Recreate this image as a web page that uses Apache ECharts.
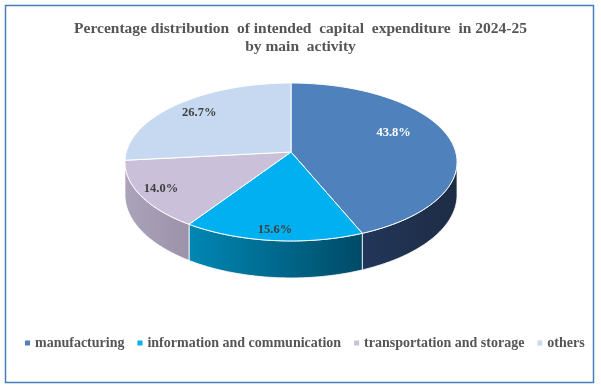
<!DOCTYPE html>
<html>
<head>
<meta charset="utf-8">
<script src="https://cdn.jsdelivr.net/npm/echarts@6/dist/echarts.min.js"></script>
<style>
html,body{margin:0;padding:0;background:#fff;}
#chart{width:601px;height:388px;}
</style>
</head>
<body>
<div id="chart"></div>
<script>
// ---- data ----
const categories = ['manufacturing', 'information and communication', 'transportation and storage', 'others'];
const values = [43.8, 15.6, 14.0, 26.7];
const labels = ['43.8%', '15.6%', '14.0%', '26.7%'];

// ---- styles / layout ----
const topColors = ['#4F81BD', '#00B0F0', '#CBC0DA', '#C6D9F1'];
const sideColors = [['#22365A', '#1E2C44'], ['#0087B4', '#004B66'], ['#ABA3BA', '#9C93AB'], ['#A4B5CC', '#93A3B9']];
const labelColors = ['#FFFFFF', '#404040', '#404040', '#404040'];
const labelRadius = [0.69, 0.89, 0.87, 0.8];
const labelAngleShift = [-10, 0, 0, 0];

const CX = 291, CY = 152, RX = 164.7, RY = 77.7, K = 0.1266, H = 32.3;
const total = values.reduce((a, b) => a + b, 0);
const starts = [], ends = [];
let acc = 0;
values.forEach(v => { starts.push(acc / total * 360); acc += v; ends.push(acc / total * 360); });
const VIS0 = Math.acos(-K) * 180 / Math.PI;   // silhouette, right
const VIS1 = 360 - VIS0;                       // silhouette, left

function proj(deg, r, down) {
  const a = deg * Math.PI / 180;
  const s = r * Math.sin(a), t = -r * Math.cos(a);
  const w = 1 - K * t;
  return [CX + RX * s / w, CY + RY * t / w + (down ? H / w : 0)];
}
function arc(a0, a1, down) {
  const pts = [];
  const n = Math.max(2, Math.ceil(Math.abs(a1 - a0)));
  for (let i = 0; i <= n; i++) pts.push(proj(a0 + (a1 - a0) * i / n, 1, down));
  return pts;
}

const chart = echarts.init(document.getElementById('chart'), null, {renderer: 'canvas'});

const seriesData = categories.map((c, i) => ({name: c, value: values[i]}));

const option = {
  animation: false,
  title: {
    text: 'Percentage distribution  of intended  capital  expenditure  in 2024-25\nby main  activity',
    left: 'center',
    top: 15,
    textStyle: {fontFamily: 'Liberation Serif', fontWeight: 'bold', fontSize: 15.5, color: '#555555', lineHeight: 18}
  },
  legend: {
    data: categories,
    left: 20,
    top: 331,
    icon: 'rect',
    itemWidth: 5,
    itemHeight: 5,
    itemGap: 13,
    selectedMode: false,
    textStyle: {fontFamily: 'Liberation Serif', fontWeight: 'bold', fontSize: 14, color: '#555555'}
  },
  graphic: [{
    type: 'rect',
    shape: {x: 5.5, y: 5.5, width: 588, height: 377},
    style: {fill: 'none', stroke: '#4A7EBB', lineWidth: 1.5},
    silent: true
  }],
  series: [
    {
      type: 'pie',
      radius: [0, 0],
      center: [-50, -50],
      silent: true,
      label: {show: false},
      labelLine: {show: false},
      data: categories.map((c, i) => ({name: c, value: values[i], itemStyle: {color: topColors[i]}}))
    },
    {
      type: 'custom',
      coordinateSystem: 'none',
      silent: true,
      z: 2,
      data: seriesData,
      renderItem: function (params, api) {
        const i = params.dataIndex;
        const a0 = Math.max(starts[i], VIS0), a1 = Math.min(ends[i], VIS1);
        if (a1 <= a0) return {type: 'group', children: []};
        const pts = arc(a0, a1, false).concat(arc(a1, a0, true));
        return {
          type: 'polygon',
          shape: {points: pts},
          style: {
            fill: new echarts.graphic.LinearGradient(0, 0, 1, 0, [
              {offset: 0, color: sideColors[i][0]}, {offset: 1, color: sideColors[i][1]}
            ]),
            stroke: '#FFFFFF', lineWidth: 0.8
          }
        };
      }
    },
    {
      type: 'custom',
      coordinateSystem: 'none',
      silent: true,
      z: 3,
      data: seriesData,
      renderItem: function (params, api) {
        const i = params.dataIndex;
        const pts = [[CX, CY]].concat(arc(starts[i], ends[i], false));
        const mid = (starts[i] + ends[i]) / 2 + labelAngleShift[i];
        const lp = proj(mid, labelRadius[i], false);
        return {
          type: 'group',
          children: [
            {
              type: 'polygon',
              shape: {points: pts},
              style: {fill: topColors[i], stroke: '#FFFFFF', lineWidth: 1, lineJoin: 'round'}
            },
            {
              type: 'text',
              z2: 10,
              style: {
                text: labels[i], x: lp[0], y: lp[1], align: 'center', verticalAlign: 'middle',
                fill: labelColors[i], font: 'bold 12.5px "Liberation Serif"'
              }
            }
          ]
        };
      }
    }
  ]
};
chart.setOption(option);
</script>
</body>
</html>
